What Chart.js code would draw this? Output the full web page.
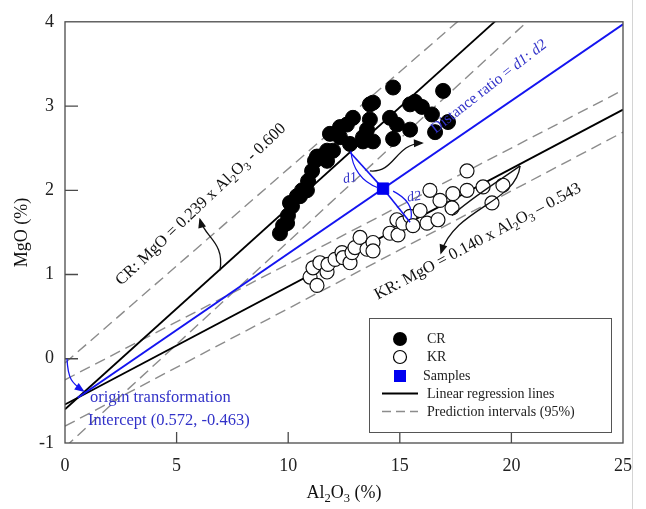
<!DOCTYPE html>
<html>
<head>
<meta charset="utf-8">
<script src="https://cdn.jsdelivr.net/npm/chart.js@4.4.1/dist/chart.umd.min.js"></script>
<style>
html, body { margin: 0; padding: 0; background: #fff; }
canvas { display: block; }
</style>
</head>
<body>
<canvas id="chart" width="646" height="509"></canvas>
<script>
// CR : Al2O3 (%) / MgO (%)
const crAl = [9.63, 9.77, 9.95, 9.99, 10.08, 10.17, 10.39, 10.53, 10.62, 10.84, 10.89, 11.07, 11.20, 11.29,
              11.42, 11.74, 11.74, 11.87, 12.01, 12.32, 12.32, 12.63, 12.77, 12.90, 13.35, 13.35, 13.53, 13.66,
              13.66, 13.80, 13.80, 14.56, 14.70, 14.70, 14.87, 15.46, 15.46, 15.68, 15.99, 16.44, 16.58, 16.94, 17.16];
const crMg = [1.49, 1.58, 1.61, 1.70, 1.85, 1.81, 1.93, 1.93, 2.00, 2.00, 2.11, 2.23, 2.35, 2.40,
              2.40, 2.47, 2.35, 2.67, 2.47, 2.63, 2.75, 2.78, 2.55, 2.86, 2.63, 2.58, 2.72, 2.84,
              3.02, 3.04, 2.58, 2.86, 3.22, 2.61, 2.78, 2.72, 3.02, 3.05, 2.99, 2.90, 2.69, 3.18, 2.81];

// KR
const krAl = [10.98, 11.11, 11.29, 11.42, 11.74, 11.78, 12.10, 12.41, 12.46, 12.77, 12.86, 12.99, 13.22, 13.53,
              13.80, 13.80, 14.56, 14.87, 14.92, 15.14, 15.46, 15.59, 15.91, 16.22, 16.35, 16.71, 16.80, 17.34,
              17.38, 18.01, 18.01, 18.73, 19.13, 19.62];
const krMg = [0.97, 1.08, 0.87, 1.14, 1.03, 1.12, 1.18, 1.26, 1.20, 1.14, 1.26, 1.32, 1.44, 1.30,
              1.38, 1.28, 1.49, 1.65, 1.47, 1.61, 1.69, 1.58, 1.76, 1.61, 2.00, 1.65, 1.88, 1.79,
              1.96, 2.00, 2.23, 2.04, 1.85, 2.06];

// échantillon
const sampleAl = [14.25];
const sampleMg = [2.02];

// droites de régression
const crFit = { slope: 0.239, intercept: -0.600 };
const krFit = { slope: 0.140, intercept: -0.543 };
const origin = { x: 0.572, y: -0.463 };

// pieds des distances d1 (droite CR) et d2 (droite KR)
const d1Al = 12.77;
const d2Al = 15.46;

// intervalles de prédiction (95%) lus en x = 0 et x = 25
const piAl = [0, 25];
const crUpper = [-0.05, 5.71];
const crLower = [-1.05, 5.05];
const krUpper = [-0.25, 3.19];
const krLower = [-0.80, 2.69];

const xTicks = [0, 5, 10, 15, 20, 25];
const yTicks = [-1, 0, 1, 2, 3, 4];

const SERIF = "'Liberation Serif', 'Times New Roman', serif";
const BLUE = "#1414f0";
const BLUE_TEXT = "#3232c8";

function pts(xs, ys) {
    return xs.map((x, i) => ({ x: x, y: ys[i] }));
}

function fitLine(fit, x0, x1) {
    return [x0, x1].map(x => ({ x: x, y: fit.slope * x + fit.intercept }));
}

const blueSlope = (sampleMg[0] - origin.y) / (sampleAl[0] - origin.x);
const blueLine = [
    { x: origin.x, y: origin.y },
    { x: 25, y: origin.y + blueSlope * (25 - origin.x) }
];

const d1Line = [
    { x: sampleAl[0], y: sampleMg[0] },
    { x: d1Al, y: crFit.slope * d1Al + crFit.intercept }
];
const d2Line = [
    { x: sampleAl[0], y: sampleMg[0] },
    { x: d2Al, y: krFit.slope * d2Al + krFit.intercept }
];

function dashed(data) {
    return {
        data: data, showLine: true, pointRadius: 0,
        borderColor: "#8c8c8c", borderWidth: 1.4, borderDash: [11, 6], order: 4
    };
}

// texte avec indices / italique
function richText(ctx, parts, x, y, angle, size, color, align) {
    ctx.save();
    ctx.translate(x, y);
    ctx.rotate(angle * Math.PI / 180);
    ctx.fillStyle = color;
    ctx.textBaseline = "middle";
    ctx.textAlign = "left";
    const fontOf = p => {
        const it = p.startsWith("*");
        const sub = p.startsWith("_");
        const s = sub ? size * 0.7 : size;
        return (it ? "italic " : "") + s + "px " + SERIF;
    };
    const txt = p => (p.startsWith("*") || p.startsWith("_")) ? p.slice(1) : p;
    let total = 0;
    parts.forEach(p => { ctx.font = fontOf(p); total += ctx.measureText(txt(p)).width; });
    let cx = align === "left" ? 0 : -total / 2;
    parts.forEach(p => {
        ctx.font = fontOf(p);
        ctx.fillText(txt(p), cx, p.startsWith("_") ? size * 0.3 : 0);
        cx += ctx.measureText(txt(p)).width;
    });
    ctx.restore();
}

// courbe de Bézier avec pointe de flèche optionnelle
function curve(ctx, chart, p, color, width, arrow) {
    const xs = chart.scales.x, ys = chart.scales.y;
    const q = p.map(a => [xs.getPixelForValue(a[0]), ys.getPixelForValue(a[1])]);
    ctx.save();
    ctx.strokeStyle = color;
    ctx.fillStyle = color;
    ctx.lineWidth = width;
    ctx.beginPath();
    ctx.moveTo(q[0][0], q[0][1]);
    ctx.bezierCurveTo(q[1][0], q[1][1], q[2][0], q[2][1], q[3][0], q[3][1]);
    ctx.stroke();
    if (arrow) {
        const ang = Math.atan2(q[3][1] - q[2][1], q[3][0] - q[2][0]);
        ctx.translate(q[3][0], q[3][1]);
        ctx.rotate(ang);
        ctx.beginPath();
        ctx.moveTo(2, 0);
        ctx.lineTo(-8, -4);
        ctx.lineTo(-8, 4);
        ctx.closePath();
        ctx.fill();
    }
    ctx.restore();
}

const decor = {
    id: "decor",
    afterDraw(chart) {
        const ctx = chart.ctx;
        const a = chart.chartArea;
        const xs = chart.scales.x, ys = chart.scales.y;
        const px = v => xs.getPixelForValue(v);
        const py = v => ys.getPixelForValue(v);

        // cadre et graduations intérieures
        ctx.save();
        ctx.strokeStyle = "#4a4a4a";
        ctx.lineWidth = 1.3;
        ctx.strokeRect(a.left, a.top, a.right - a.left, a.bottom - a.top);
        ctx.beginPath();
        yTicks.slice(1, -1).forEach(v => { ctx.moveTo(a.left, py(v)); ctx.lineTo(a.left + 13, py(v)); });
        xTicks.slice(1, -1).forEach(v => { ctx.moveTo(px(v), a.bottom); ctx.lineTo(px(v), a.bottom - 11); });
        ctx.stroke();
        ctx.strokeStyle = "#d4d4d4";
        ctx.lineWidth = 1;
        ctx.beginPath();
        ctx.moveTo(632.5, 0);
        ctx.lineTo(632.5, 509);
        ctx.stroke();
        ctx.restore();

        // titres des axes
        richText(ctx, ["MgO (%)"], 22, (a.top + a.bottom) / 2, -90, 18, "#111");
        richText(ctx, ["Al", "_2", "O", "_3", " (%)"], (a.left + a.right) / 2, 493, 0, 18, "#111");

        // équations
        richText(ctx, ["CR: MgO = 0.239 x Al", "_2", "O", "_3", " - 0.600"], px(6.09), py(1.83), -43.5, 16.5, "#111");
        richText(ctx, ["KR: MgO = 0.140 x Al", "_2", "O", "_3", " \u2013 0.543"], px(18.5), py(1.39), -28, 16.5, "#111");
        richText(ctx, ["Distance ratio = ", "*d1", ": ", "*d2"], px(19.0), py(3.23), -38, 15.5, BLUE_TEXT);
        richText(ctx, ["origin transformation"], px(1.12), py(-0.46), 0, 16.5, BLUE_TEXT, "left");
        richText(ctx, ["Intercept (0.572, -0.463)"], px(1.03), py(-0.73), 0, 16.5, BLUE_TEXT, "left");
        richText(ctx, ["*d1"], px(12.77), py(2.14), -10, 14, BLUE_TEXT);
        richText(ctx, ["*d2"], px(15.64), py(1.92), -10, 14, BLUE_TEXT);

        // flèches
        curve(ctx, chart, [[6.94, 1.05], [7.17, 1.38], [6.27, 1.44], [6.05, 1.65]], "#111", 1.3, true);
        curve(ctx, chart, [[13.66, 2.23], [14.78, 2.20], [14.78, 2.55], [15.99, 2.56]], "#111", 1.3, true);
        curve(ctx, chart, [[20.39, 2.29], [20.21, 1.85], [17.47, 1.79], [16.85, 1.26]], "#111", 1.3, true);
        curve(ctx, chart, [[20.39, 2.29], [19.27, 2.08], [18.15, 1.90], [17.34, 1.70]], "#111", 1.3, false);
        curve(ctx, chart, [[0.09, 0.0], [0.13, -0.24], [0.31, -0.29], [0.81, -0.38]], BLUE, 1.3, true);
        curve(ctx, chart, [[12.81, 2.47], [12.86, 2.26], [13.30, 2.10], [14.02, 2.03]], BLUE, 1.2, false);
        curve(ctx, chart, [[14.70, 1.99], [15.37, 1.90], [15.59, 1.79], [15.50, 1.66]], BLUE, 1.2, false);

        // légende
        ctx.save();
        ctx.strokeStyle = "#555";
        ctx.lineWidth = 1;
        ctx.strokeRect(369.5, 318.5, 242, 114);
        ctx.fillStyle = "#000";
        ctx.beginPath(); ctx.arc(400, 339, 7, 0, Math.PI * 2); ctx.fill();
        ctx.strokeStyle = "#000";
        ctx.lineWidth = 1.2;
        ctx.beginPath(); ctx.arc(400, 357, 6.5, 0, Math.PI * 2); ctx.stroke();
        ctx.fillStyle = "#0000f0";
        ctx.fillRect(394, 370, 12, 12);
        ctx.lineWidth = 2;
        ctx.beginPath(); ctx.moveTo(382, 393.5); ctx.lineTo(418, 393.5); ctx.stroke();
        ctx.strokeStyle = "#8c8c8c";
        ctx.lineWidth = 1.3;
        ctx.setLineDash([9, 5]);
        ctx.beginPath(); ctx.moveTo(382, 411.5); ctx.lineTo(418, 411.5); ctx.stroke();
        ctx.restore();
        const legTxt = [["CR", 427, 339], ["KR", 427, 357], ["Samples", 423, 376],
                        ["Linear regression lines", 427, 394], ["Prediction intervals (95%)", 427, 412]];
        legTxt.forEach(t => richText(ctx, [t[0]], t[1], t[2], 0, 14, "#222", "left"));
    }
};

new Chart(document.getElementById("chart"), {
    type: "scatter",
    data: {
        datasets: [
            {
                data: pts(sampleAl, sampleMg), pointStyle: "rect", pointRadius: 8,
                backgroundColor: "#0000f0", borderColor: "#0000f0", order: 0
            },
            { data: d1Line, showLine: true, pointRadius: 0, borderColor: BLUE, borderWidth: 1.6, order: 0 },
            { data: d2Line, showLine: true, pointRadius: 0, borderColor: BLUE, borderWidth: 1.6, order: 0 },
            { data: blueLine, showLine: true, pointRadius: 0, borderColor: BLUE, borderWidth: 2, order: 1 },
            {
                data: pts(crAl, crMg), pointRadius: 7.5, pointStyle: "circle",
                backgroundColor: "#000", borderColor: "#000", borderWidth: 1, order: 2
            },
            {
                data: pts(krAl, krMg), pointRadius: 7, pointStyle: "circle",
                backgroundColor: "#fff", borderColor: "#111", borderWidth: 1.2, order: 2
            },
            { data: fitLine(crFit, 0, 25), showLine: true, pointRadius: 0, borderColor: "#000", borderWidth: 1.8, order: 3 },
            { data: fitLine(krFit, 0, 25), showLine: true, pointRadius: 0, borderColor: "#000", borderWidth: 1.8, order: 3 },
            dashed(pts(piAl, crUpper)),
            dashed(pts(piAl, crLower)),
            dashed(pts(piAl, krUpper)),
            dashed(pts(piAl, krLower))
        ]
    },
    options: {
        responsive: false,
        devicePixelRatio: 1,
        animation: false,
        layout: { padding: { top: 16, right: 23, left: 0, bottom: 0 } },
        plugins: { legend: { display: false }, tooltip: { enabled: false } },
        scales: {
            x: {
                type: "linear", min: 0, max: 25,
                afterFit: s => { s.height = 66; },
                afterBuildTicks: s => { s.ticks = xTicks.map(v => ({ value: v })); },
                ticks: { font: { family: SERIF, size: 18 }, color: "#222", padding: 12, callback: v => String(v) },
                grid: { display: false, drawTicks: false },
                border: { display: false }
            },
            y: {
                type: "linear", min: -1, max: 4,
                afterFit: s => { s.width = 65; },
                afterBuildTicks: s => { s.ticks = yTicks.map(v => ({ value: v })); },
                ticks: { font: { family: SERIF, size: 18 }, color: "#222", padding: 11, callback: v => String(v) },
                grid: { display: false, drawTicks: false },
                border: { display: false }
            }
        }
    },
    plugins: [decor]
});
</script>
</body>
</html>
